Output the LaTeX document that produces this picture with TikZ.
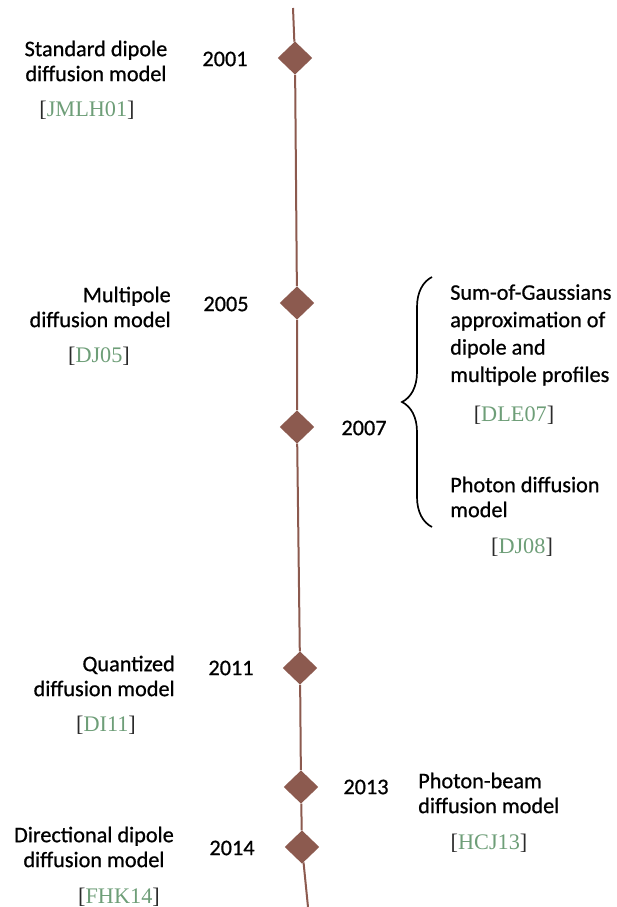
\documentclass[tikz,border=0pt]{standalone}
\usepackage{fontspec}
\setmainfont{Carlito}[FakeBold=0.7]
\newfontfamily\citefont{Liberation Serif}
\usetikzlibrary{shapes.geometric,decorations.pathreplacing,positioning}
\definecolor{timeline}{HTML}{8C5A4F}
\definecolor{citegreen}{HTML}{6E9E78}
\definecolor{bracketgray}{HTML}{2A2A2A}
\newcommand{\citetag}[1]{{\citefont\color{bracketgray}[\textcolor{citegreen}{#1}]}}

\tikzset{
  event/.style={diamond, fill=timeline, inner sep=0pt, minimum width=10.4mm, minimum height=10mm},
  model/.style={font=\fontsize{19}{21.3}\selectfont, align=center, inner sep=0pt},
  year/.style={font=\fontsize{19}{21.3}\selectfont, inner sep=0pt},
  ref/.style={font=\fontsize{19}{21.3}\selectfont, inner sep=0pt},
  axis/.style={draw=timeline, line width=0.6mm}
}

\begin{document}
\begin{tikzpicture}[x=0.3mm, y=-0.3mm]
  \useasboundingbox (0,0) rectangle (616,907);

  % 2001
  \node (d2001) [event] at (295,58) {};
  \node (y2001) [year] at (225,59) {2001};
  \node (m2001) [model] at (96,61) {Standard dipole\\diffusion model};
  \node (r2001) [ref] at (87,110) {\citetag{JMLH01}};

  % 2005
  \node (d2005) [event] at (297,303) {};
  \node (y2005) [year] at (226,304) {2005};
  \node (m2005) [model, align=right, anchor=east] at (171,307) {Multipole\\diffusion model};
  \node (r2005) [ref] at (99,356) {\citetag{DJ05}};

  % 2007
  \node (d2007) [event] at (297,427) {};
  \node (y2007) [year] at (364,428) {2007};
  \coordinate (braceTop) at (432,277);
  \coordinate (braceBot) at (432,527);
  \draw [decorate, decoration={brace, amplitude=9mm}, line width=0.5mm] (braceBot) -- (braceTop);
  \node (m2007a) [model, align=left, anchor=west, font=\fontsize{19}{23.4}\selectfont] at (450,335) {Sum-of-Gaussians\\approximation of\\dipole and\\multipole profiles};
  \node (r2007a) [ref] at (514,415) {\citetag{DLE07}};
  \node (m2007b) [model, align=left, anchor=west] at (450,497) {Photon diffusion\\model};
  \node (r2007b) [ref] at (522,547) {\citetag{DJ08}};

  % 2011
  \node (d2011) [event] at (300,668) {};
  \node (y2011) [year] at (231,668) {2011};
  \node (m2011) [model, align=right, anchor=east] at (175,676) {Quantized\\diffusion model};
  \node (r2011) [ref] at (106,725) {\citetag{DI11}};

  % 2013
  \node (d2013) [event] at (301,787) {};
  \node (y2013) [year] at (366,787) {2013};
  \node (m2013) [model, align=left, anchor=west] at (418,793) {Photon-beam\\diffusion model};
  \node (r2013) [ref] at (489,843) {\citetag{HCJ13}};

  % 2014
  \node (d2014) [event] at (302,847) {};
  \node (y2014) [year] at (232,848) {2014};
  \node (m2014) [model] at (94,847) {Directional dipole\\diffusion model};
  \node (r2014) [ref] at (119,897) {\citetag{FHK14}};

  % timeline axis
  \coordinate (axisTop) at (293,8);
  \coordinate (axisBot) at (308,907);
  \path [axis] (axisTop) -- (d2001) -- (d2005) -- (d2007) -- (d2011) -- (d2013) -- (d2014) -- (axisBot);
\end{tikzpicture}
\end{document}
